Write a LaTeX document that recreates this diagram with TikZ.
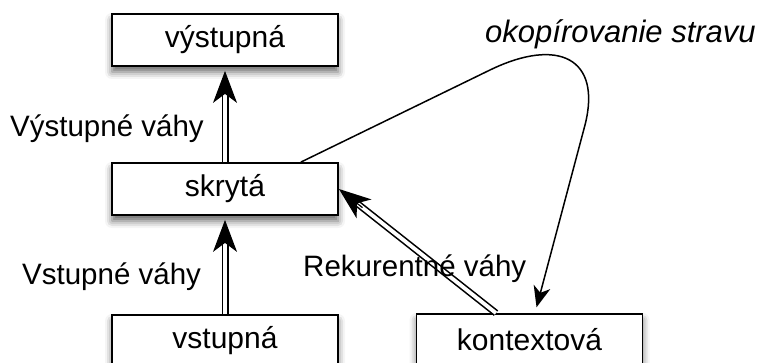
\documentclass[tikz,border=0pt]{standalone}
\usepackage{fontspec}
\setmainfont{Liberation Sans}
\usetikzlibrary{arrows.meta,calc,shadows.blur}

\tikzset{
  layer/.style={draw=black, line width=1.8pt, fill=white, minimum width=226pt,
    minimum height=52pt, inner sep=0pt,
    font=\fontsize{30}{34}\selectfont,
    blur shadow={shadow xshift=0pt, shadow yshift=-6pt, shadow blur radius=7pt, shadow opacity=60}},
  lbl/.style={anchor=base west, inner sep=0pt, font=\fontsize{29.5}{34}\selectfont},
  dbl/.style={draw=black, double=white, line width=1.6pt, double distance=3.8pt},
  bighead/.style={line width=1.2pt, -{Stealth[length=32pt, width=24pt, inset=9pt]}},
  smallhead/.style={line width=1.5pt, -{Stealth[length=21pt, width=17pt, inset=6pt]}}
}

\begin{document}
\begin{tikzpicture}[x=1pt, y=-1pt]
  \useasboundingbox (0,0) rectangle (766,363);

  % layers
  \node[layer] (out) at (225,40)    {výstupná};
  \node[layer] (hid) at (225,189)   {skrytá};
  \node[layer] (in)  at (225,341)   {vstupná};
  \node[layer] (ctx) at (529.5,340) {kontextová};

  % attachment points of the recurrent loop
  \coordinate (ctxout) at ($(ctx.north)+(-33.5,0)$);
  \coordinate (hidout) at ($(hid.north east)+(-38,0)$);
  \coordinate (ctxin)  at ($(ctx.north)+(5.5,0)$);
  \coordinate (bend1)  at (490,70);
  \coordinate (bend2)  at (585,125);

  % input -> hidden
  \draw[dbl, shorten >=26pt] (in.north) -- (hid.south);
  \draw[bighead, shorten >=4pt] ($(hid.south)!0.25!(in.north)$) -- (hid.south);

  % hidden -> output
  \draw[dbl, shorten >=26pt] (hid.north) -- (out.south);
  \draw[bighead, shorten >=4pt] ($(out.south)!0.25!(hid.north)$) -- (out.south);

  % context -> hidden
  \draw[dbl, shorten >=24pt] (ctxout) -- (hid.east);
  \draw[bighead, shorten >=0pt] ($(hid.east)!0.15!(ctxout)$) -- (hid.east);

  % copy of the hidden state into the context layer
  \draw[smallhead, shorten >=6pt] (hidout) -- (bend1)
    .. controls (558,37) and (602,58) .. (bend2) -- (ctxin);

  % labels
  \node[lbl] (lout) at (10,137)  {Výstupné váhy};
  \node[lbl] (lin)  at (22,285)  {Vstupné váhy};
  \node[lbl] (lrec) at (303,277) {Rekurentné váhy};
  \node[lbl, font=\fontsize{31}{34}\selectfont\itshape] (lcopy) at (485,43) {okopírovanie stravu};
\end{tikzpicture}
\end{document}
